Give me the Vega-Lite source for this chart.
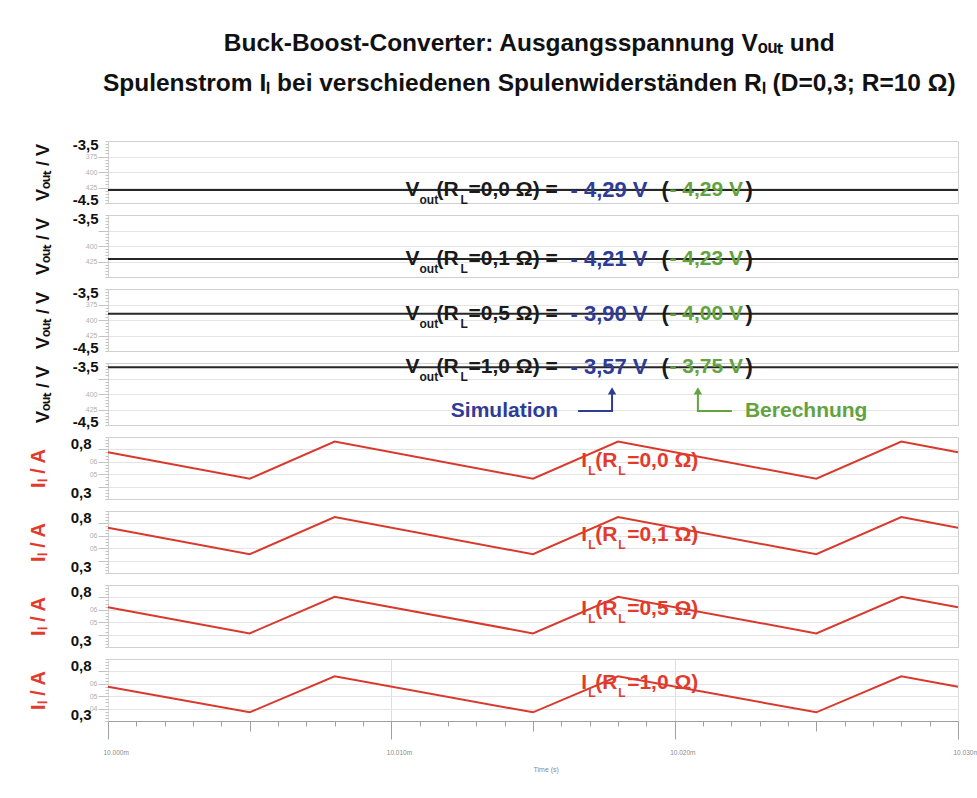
{
  "$schema": "https://vega.github.io/schema/vega-lite/v6.json",
  "padding": {"left": 27, "top": 31, "right": 5, "bottom": 5},
  "background": "white",
  "title": {
    "text": ["Buck-Boost-Converter: Ausgangsspannung Vₒᵤₜ und", "Spulenstrom Iₗ bei verschiedenen Spulenwiderständen Rₗ (D=0,3; R=10 Ω)"],
    "font": "Liberation Sans", "fontSize": 24.5, "fontWeight": "bold", "color": "#111111",
    "lineHeight": 40, "anchor": "middle", "offset": 40, "dx": 26
  },
  "config": {
    "view": {"stroke": "#d0d0d0"},
    "axis": {"labelFont": "Liberation Sans", "titleFont": "Liberation Sans"},
    "text": {"font": "Liberation Sans", "fontWeight": "bold", "align": "left", "baseline": "middle"}
  },
  "datasets": {
    "vout": [
      {"panel": 1, "t": 10.000, "v": -4.29}, {"panel": 1, "t": 10.030, "v": -4.29},
      {"panel": 2, "t": 10.000, "v": -4.21}, {"panel": 2, "t": 10.030, "v": -4.21},
      {"panel": 3, "t": 10.000, "v": -3.90}, {"panel": 3, "t": 10.030, "v": -3.90},
      {"panel": 4, "t": 10.000, "v": -3.57}, {"panel": 4, "t": 10.030, "v": -3.57}
    ],
    "il": [
      {"panel": 5, "t": 10.000, "v": 0.677}, {"panel": 5, "t": 10.005, "v": 0.463}, {"panel": 5, "t": 10.008, "v": 0.763}, {"panel": 5, "t": 10.015, "v": 0.463}, {"panel": 5, "t": 10.018, "v": 0.763}, {"panel": 5, "t": 10.025, "v": 0.463}, {"panel": 5, "t": 10.028, "v": 0.763}, {"panel": 5, "t": 10.030, "v": 0.677},
      {"panel": 6, "t": 10.000, "v": 0.665}, {"panel": 6, "t": 10.005, "v": 0.451}, {"panel": 6, "t": 10.008, "v": 0.751}, {"panel": 6, "t": 10.015, "v": 0.451}, {"panel": 6, "t": 10.018, "v": 0.751}, {"panel": 6, "t": 10.025, "v": 0.451}, {"panel": 6, "t": 10.028, "v": 0.751}, {"panel": 6, "t": 10.030, "v": 0.665},
      {"panel": 7, "t": 10.000, "v": 0.621}, {"panel": 7, "t": 10.005, "v": 0.410}, {"panel": 7, "t": 10.008, "v": 0.705}, {"panel": 7, "t": 10.015, "v": 0.410}, {"panel": 7, "t": 10.018, "v": 0.705}, {"panel": 7, "t": 10.025, "v": 0.410}, {"panel": 7, "t": 10.028, "v": 0.705}, {"panel": 7, "t": 10.030, "v": 0.621},
      {"panel": 8, "t": 10.000, "v": 0.577}, {"panel": 8, "t": 10.005, "v": 0.370}, {"panel": 8, "t": 10.008, "v": 0.660}, {"panel": 8, "t": 10.015, "v": 0.370}, {"panel": 8, "t": 10.018, "v": 0.660}, {"panel": 8, "t": 10.025, "v": 0.370}, {"panel": 8, "t": 10.028, "v": 0.660}, {"panel": 8, "t": 10.030, "v": 0.577}
    ],
    "vlab": [
      {"panel": 1, "t": 10.0105, "v": -4.29, "lab": "=0,0 Ω) =", "sim": "- 4,29 V", "calc": "- 4,29 V"},
      {"panel": 2, "t": 10.0105, "v": -4.21, "lab": "=0,1 Ω) =", "sim": "- 4,21 V", "calc": "- 4,23 V"},
      {"panel": 3, "t": 10.0105, "v": -3.90, "lab": "=0,5 Ω) =", "sim": "- 3,90 V", "calc": "- 4,00 V"},
      {"panel": 4, "t": 10.0105, "v": -3.57, "lab": "=1,0 Ω) =", "sim": "- 3,57 V", "calc": "- 3,75 V"}
    ],
    "ilab": [
      {"panel": 5, "t": 10.0167, "v": 0.61, "lab": "=0,0 Ω)"},
      {"panel": 6, "t": 10.0167, "v": 0.61, "lab": "=0,1 Ω)"},
      {"panel": 7, "t": 10.0167, "v": 0.61, "lab": "=0,5 Ω)"},
      {"panel": 8, "t": 10.0167, "v": 0.61, "lab": "=1,0 Ω)"}
    ],
    "arrows": [
      {"grp": "sim", "o": 1, "t": 10.01659, "v": -4.274}, {"grp": "sim", "o": 2, "t": 10.01779, "v": -4.274}, {"grp": "sim", "o": 3, "t": 10.01779, "v": -4.0},
      {"grp": "ber", "o": 1, "t": 10.02202, "v": -4.274}, {"grp": "ber", "o": 2, "t": 10.02082, "v": -4.274}, {"grp": "ber", "o": 3, "t": 10.02082, "v": -4.0}
    ],
    "heads": [
      {"grp": "sim", "t": 10.01779, "v": -3.95},
      {"grp": "ber", "t": 10.02082, "v": -3.95}
    ],
    "notes": [
      {"grp": "sim", "t": 10.0121, "v": -4.274, "txt": "Simulation"},
      {"grp": "ber", "t": 10.02248, "v": -4.274, "txt": "Berechnung"}
    ]
  },
  "spacing": 12,
  "bounds": "flush",
  "vconcat": [
    {
      "width": 850, "height": 62, "resolve": {"axis": {"y": "independent"}},
      "layer": [
        {"data": {"name": "vout"}, "transform": [{"filter": "datum.panel == 1"}], "mark": {"type": "line", "color": "#262626", "strokeWidth": 2},
         "encoding": {
           "x": {"field": "t", "type": "quantitative", "scale": {"domain": [10, 10.03], "nice": false, "zero": false}, "axis": {"values": [10.01, 10.02], "grid": true, "gridColor": "#dedede", "labels": false, "ticks": false, "domain": false, "title": null}},
           "y": {"field": "v", "type": "quantitative", "scale": {"domain": [-4.5, -3.5], "nice": false, "zero": false}, "axis": {"orient": "left", "values": [-3.5, -4.5], "labelExpr": "datum.value == -3.5 ? '-3,5' : '-4.5'", "labelFlush": true, "labelFlushOffset": 4, "labelFontSize": 15, "labelFontWeight": "bold", "labelColor": "#111111", "labelPadding": 10, "labelOverlap": false, "ticks": false, "domain": false, "grid": false, "title": "Vₒᵤₜ / V", "titleFontSize": 18, "titleFontWeight": "bold", "titleColor": "#111111", "titlePadding": 20}}
         }},
        {"data": {"name": "vlab"}, "transform": [{"filter": "datum.panel == 1"}], "mark": {"type": "text", "text": "V", "dx": 0, "fontSize": 21, "color": "#1a1a1a"},
         "encoding": {"x": {"field": "t", "type": "quantitative", "axis": null}, "y": {"field": "v", "type": "quantitative", "axis": {"orient": "left", "values": [-3.75, -4, -4.25], "labelExpr": "datum.value == -3.75 ? '375' : datum.value == -4 ? '400' : '425'", "labelFontSize": 7, "labelColor": "#b0b0b0", "labelPadding": 1, "labelOverlap": false, "ticks": true, "tickSize": 10, "tickColor": "#c4c4c4", "grid": true, "gridColor": "#e4e4e4", "domain": false, "title": null}}}},
        {"data": {"name": "vlab"}, "transform": [{"filter": "datum.panel == 1"}], "mark": {"type": "text", "text": "out", "dx": 14, "dy": 10, "fontSize": 12, "color": "#1a1a1a"},
         "encoding": {"x": {"field": "t", "type": "quantitative", "axis": null}, "y": {"field": "v", "type": "quantitative", "axis": {"orient": "left", "values": [-3.5, -3.55, -3.6, -3.65, -3.7, -3.75, -3.8, -3.85, -3.9, -3.95, -4, -4.05, -4.1, -4.15, -4.2, -4.25, -4.3, -4.35, -4.4, -4.45, -4.5], "labels": false, "ticks": true, "tickSize": 3, "tickColor": "#c4c4c4", "grid": false, "domain": false, "title": null}}}},
        {"data": {"name": "vlab"}, "transform": [{"filter": "datum.panel == 1"}], "mark": {"type": "text", "text": "(R", "dx": 31, "fontSize": 21, "color": "#1a1a1a"},
         "encoding": {"x": {"field": "t", "type": "quantitative", "axis": null}, "y": {"field": "v", "type": "quantitative", "axis": null}}},
        {"data": {"name": "vlab"}, "transform": [{"filter": "datum.panel == 1"}], "mark": {"type": "text", "text": "L", "dx": 55, "dy": 10, "fontSize": 12, "color": "#1a1a1a"},
         "encoding": {"x": {"field": "t", "type": "quantitative", "axis": null}, "y": {"field": "v", "type": "quantitative", "axis": null}}},
        {"data": {"name": "vlab"}, "transform": [{"filter": "datum.panel == 1"}], "mark": {"type": "text", "dx": 63, "fontSize": 21, "color": "#1a1a1a"},
         "encoding": {"text": {"field": "lab"}, "x": {"field": "t", "type": "quantitative", "axis": null}, "y": {"field": "v", "type": "quantitative", "axis": null}}},
        {"data": {"name": "vlab"}, "transform": [{"filter": "datum.panel == 1"}], "mark": {"type": "text", "dx": 165, "fontSize": 22, "color": "#2f3c96"},
         "encoding": {"text": {"field": "sim"}, "x": {"field": "t", "type": "quantitative", "axis": null}, "y": {"field": "v", "type": "quantitative", "axis": null}}},
        {"data": {"name": "vlab"}, "transform": [{"filter": "datum.panel == 1"}], "mark": {"type": "text", "text": "(", "dx": 256, "fontSize": 22, "color": "#1a1a1a"},
         "encoding": {"x": {"field": "t", "type": "quantitative", "axis": null}, "y": {"field": "v", "type": "quantitative", "axis": null}}},
        {"data": {"name": "vlab"}, "transform": [{"filter": "datum.panel == 1"}], "mark": {"type": "text", "dx": 264, "fontSize": 21, "color": "#63a33f"},
         "encoding": {"text": {"field": "calc"}, "x": {"field": "t", "type": "quantitative", "axis": null}, "y": {"field": "v", "type": "quantitative", "axis": null}}},
        {"data": {"name": "vlab"}, "transform": [{"filter": "datum.panel == 1"}], "mark": {"type": "text", "text": ")", "dx": 340, "fontSize": 22, "color": "#1a1a1a"},
         "encoding": {"x": {"field": "t", "type": "quantitative", "axis": null}, "y": {"field": "v", "type": "quantitative", "axis": null}}}
      ]
    },
    {
      "width": 850, "height": 62, "resolve": {"axis": {"y": "independent"}},
      "layer": [
        {"data": {"name": "vout"}, "transform": [{"filter": "datum.panel == 2"}], "mark": {"type": "line", "color": "#262626", "strokeWidth": 2},
         "encoding": {
           "x": {"field": "t", "type": "quantitative", "scale": {"domain": [10, 10.03], "nice": false, "zero": false}, "axis": {"values": [10.01, 10.02], "grid": true, "gridColor": "#dedede", "labels": false, "ticks": false, "domain": false, "title": null}},
           "y": {"field": "v", "type": "quantitative", "scale": {"domain": [-4.5, -3.5], "nice": false, "zero": false}, "axis": {"orient": "left", "values": [-4.5, -3.5], "labelExpr": "datum.value == -3.5 ? '-3,5' : ''", "labelFlush": true, "labelFlushOffset": 4, "labelFontSize": 15, "labelFontWeight": "bold", "labelColor": "#111111", "labelPadding": 10, "labelOverlap": false, "ticks": false, "domain": false, "grid": false, "title": "Vₒᵤₜ / V", "titleFontSize": 18, "titleFontWeight": "bold", "titleColor": "#111111", "titlePadding": 20}}
         }},
        {"data": {"name": "vlab"}, "transform": [{"filter": "datum.panel == 2"}], "mark": {"type": "text", "text": "V", "dx": 0, "fontSize": 21, "color": "#1a1a1a"},
         "encoding": {"x": {"field": "t", "type": "quantitative", "axis": null}, "y": {"field": "v", "type": "quantitative", "axis": {"orient": "left", "values": [-3.75, -4, -4.25], "labelExpr": "datum.value == -3.75 ? '' : datum.value == -4 ? '400' : '425'", "labelFontSize": 7, "labelColor": "#b0b0b0", "labelPadding": 1, "labelOverlap": false, "ticks": true, "tickSize": 10, "tickColor": "#c4c4c4", "grid": true, "gridColor": "#e4e4e4", "domain": false, "title": null}}}},
        {"data": {"name": "vlab"}, "transform": [{"filter": "datum.panel == 2"}], "mark": {"type": "text", "text": "out", "dx": 14, "dy": 10, "fontSize": 12, "color": "#1a1a1a"},
         "encoding": {"x": {"field": "t", "type": "quantitative", "axis": null}, "y": {"field": "v", "type": "quantitative", "axis": {"orient": "left", "values": [-3.5, -3.55, -3.6, -3.65, -3.7, -3.75, -3.8, -3.85, -3.9, -3.95, -4, -4.05, -4.1, -4.15, -4.2, -4.25, -4.3, -4.35, -4.4, -4.45, -4.5], "labels": false, "ticks": true, "tickSize": 3, "tickColor": "#c4c4c4", "grid": false, "domain": false, "title": null}}}},
        {"data": {"name": "vlab"}, "transform": [{"filter": "datum.panel == 2"}], "mark": {"type": "text", "text": "(R", "dx": 31, "fontSize": 21, "color": "#1a1a1a"},
         "encoding": {"x": {"field": "t", "type": "quantitative", "axis": null}, "y": {"field": "v", "type": "quantitative", "axis": null}}},
        {"data": {"name": "vlab"}, "transform": [{"filter": "datum.panel == 2"}], "mark": {"type": "text", "text": "L", "dx": 55, "dy": 10, "fontSize": 12, "color": "#1a1a1a"},
         "encoding": {"x": {"field": "t", "type": "quantitative", "axis": null}, "y": {"field": "v", "type": "quantitative", "axis": null}}},
        {"data": {"name": "vlab"}, "transform": [{"filter": "datum.panel == 2"}], "mark": {"type": "text", "dx": 63, "fontSize": 21, "color": "#1a1a1a"},
         "encoding": {"text": {"field": "lab"}, "x": {"field": "t", "type": "quantitative", "axis": null}, "y": {"field": "v", "type": "quantitative", "axis": null}}},
        {"data": {"name": "vlab"}, "transform": [{"filter": "datum.panel == 2"}], "mark": {"type": "text", "dx": 165, "fontSize": 22, "color": "#2f3c96"},
         "encoding": {"text": {"field": "sim"}, "x": {"field": "t", "type": "quantitative", "axis": null}, "y": {"field": "v", "type": "quantitative", "axis": null}}},
        {"data": {"name": "vlab"}, "transform": [{"filter": "datum.panel == 2"}], "mark": {"type": "text", "text": "(", "dx": 256, "fontSize": 22, "color": "#1a1a1a"},
         "encoding": {"x": {"field": "t", "type": "quantitative", "axis": null}, "y": {"field": "v", "type": "quantitative", "axis": null}}},
        {"data": {"name": "vlab"}, "transform": [{"filter": "datum.panel == 2"}], "mark": {"type": "text", "dx": 264, "fontSize": 21, "color": "#63a33f"},
         "encoding": {"text": {"field": "calc"}, "x": {"field": "t", "type": "quantitative", "axis": null}, "y": {"field": "v", "type": "quantitative", "axis": null}}},
        {"data": {"name": "vlab"}, "transform": [{"filter": "datum.panel == 2"}], "mark": {"type": "text", "text": ")", "dx": 340, "fontSize": 22, "color": "#1a1a1a"},
         "encoding": {"x": {"field": "t", "type": "quantitative", "axis": null}, "y": {"field": "v", "type": "quantitative", "axis": null}}}
      ]
    },
    {
      "width": 850, "height": 62, "resolve": {"axis": {"y": "independent"}},
      "layer": [
        {"data": {"name": "vout"}, "transform": [{"filter": "datum.panel == 3"}], "mark": {"type": "line", "color": "#262626", "strokeWidth": 2},
         "encoding": {
           "x": {"field": "t", "type": "quantitative", "scale": {"domain": [10, 10.03], "nice": false, "zero": false}, "axis": {"values": [10.01, 10.02], "grid": true, "gridColor": "#dedede", "labels": false, "ticks": false, "domain": false, "title": null}},
           "y": {"field": "v", "type": "quantitative", "scale": {"domain": [-4.5, -3.5], "nice": false, "zero": false}, "axis": {"orient": "left", "values": [-3.5, -4.5], "labelExpr": "datum.value == -3.5 ? '-3,5' : '-4,5'", "labelFlush": true, "labelFlushOffset": 4, "labelFontSize": 15, "labelFontWeight": "bold", "labelColor": "#111111", "labelPadding": 10, "labelOverlap": false, "ticks": false, "domain": false, "grid": false, "title": "Vₒᵤₜ / V", "titleFontSize": 18, "titleFontWeight": "bold", "titleColor": "#111111", "titlePadding": 20}}
         }},
        {"data": {"name": "vlab"}, "transform": [{"filter": "datum.panel == 3"}], "mark": {"type": "text", "text": "V", "dx": 0, "fontSize": 21, "color": "#1a1a1a"},
         "encoding": {"x": {"field": "t", "type": "quantitative", "axis": null}, "y": {"field": "v", "type": "quantitative", "axis": {"orient": "left", "values": [-3.75, -4, -4.25], "labelExpr": "datum.value == -3.75 ? '375' : datum.value == -4 ? '400' : '425'", "labelFontSize": 7, "labelColor": "#b0b0b0", "labelPadding": 1, "labelOverlap": false, "ticks": true, "tickSize": 10, "tickColor": "#c4c4c4", "grid": true, "gridColor": "#e4e4e4", "domain": false, "title": null}}}},
        {"data": {"name": "vlab"}, "transform": [{"filter": "datum.panel == 3"}], "mark": {"type": "text", "text": "out", "dx": 14, "dy": 10, "fontSize": 12, "color": "#1a1a1a"},
         "encoding": {"x": {"field": "t", "type": "quantitative", "axis": null}, "y": {"field": "v", "type": "quantitative", "axis": {"orient": "left", "values": [-3.5, -3.55, -3.6, -3.65, -3.7, -3.75, -3.8, -3.85, -3.9, -3.95, -4, -4.05, -4.1, -4.15, -4.2, -4.25, -4.3, -4.35, -4.4, -4.45, -4.5], "labels": false, "ticks": true, "tickSize": 3, "tickColor": "#c4c4c4", "grid": false, "domain": false, "title": null}}}},
        {"data": {"name": "vlab"}, "transform": [{"filter": "datum.panel == 3"}], "mark": {"type": "text", "text": "(R", "dx": 31, "fontSize": 21, "color": "#1a1a1a"},
         "encoding": {"x": {"field": "t", "type": "quantitative", "axis": null}, "y": {"field": "v", "type": "quantitative", "axis": null}}},
        {"data": {"name": "vlab"}, "transform": [{"filter": "datum.panel == 3"}], "mark": {"type": "text", "text": "L", "dx": 55, "dy": 10, "fontSize": 12, "color": "#1a1a1a"},
         "encoding": {"x": {"field": "t", "type": "quantitative", "axis": null}, "y": {"field": "v", "type": "quantitative", "axis": null}}},
        {"data": {"name": "vlab"}, "transform": [{"filter": "datum.panel == 3"}], "mark": {"type": "text", "dx": 63, "fontSize": 21, "color": "#1a1a1a"},
         "encoding": {"text": {"field": "lab"}, "x": {"field": "t", "type": "quantitative", "axis": null}, "y": {"field": "v", "type": "quantitative", "axis": null}}},
        {"data": {"name": "vlab"}, "transform": [{"filter": "datum.panel == 3"}], "mark": {"type": "text", "dx": 165, "fontSize": 22, "color": "#2f3c96"},
         "encoding": {"text": {"field": "sim"}, "x": {"field": "t", "type": "quantitative", "axis": null}, "y": {"field": "v", "type": "quantitative", "axis": null}}},
        {"data": {"name": "vlab"}, "transform": [{"filter": "datum.panel == 3"}], "mark": {"type": "text", "text": "(", "dx": 256, "fontSize": 22, "color": "#1a1a1a"},
         "encoding": {"x": {"field": "t", "type": "quantitative", "axis": null}, "y": {"field": "v", "type": "quantitative", "axis": null}}},
        {"data": {"name": "vlab"}, "transform": [{"filter": "datum.panel == 3"}], "mark": {"type": "text", "dx": 264, "fontSize": 21, "color": "#63a33f"},
         "encoding": {"text": {"field": "calc"}, "x": {"field": "t", "type": "quantitative", "axis": null}, "y": {"field": "v", "type": "quantitative", "axis": null}}},
        {"data": {"name": "vlab"}, "transform": [{"filter": "datum.panel == 3"}], "mark": {"type": "text", "text": ")", "dx": 340, "fontSize": 22, "color": "#1a1a1a"},
         "encoding": {"x": {"field": "t", "type": "quantitative", "axis": null}, "y": {"field": "v", "type": "quantitative", "axis": null}}}
      ]
    },
    {
      "width": 850, "height": 62, "resolve": {"axis": {"y": "independent"}},
      "layer": [
        {"data": {"name": "vout"}, "transform": [{"filter": "datum.panel == 4"}], "mark": {"type": "line", "color": "#262626", "strokeWidth": 2},
         "encoding": {
           "x": {"field": "t", "type": "quantitative", "scale": {"domain": [10, 10.03], "nice": false, "zero": false}, "axis": {"values": [10.01, 10.02], "grid": true, "gridColor": "#dedede", "labels": false, "ticks": false, "domain": false, "title": null}},
           "y": {"field": "v", "type": "quantitative", "scale": {"domain": [-4.5, -3.5], "nice": false, "zero": false}, "axis": {"orient": "left", "values": [-3.5, -4.5], "labelExpr": "datum.value == -3.5 ? '-3,5' : '-4,5'", "labelFlush": true, "labelFlushOffset": 4, "labelFontSize": 15, "labelFontWeight": "bold", "labelColor": "#111111", "labelPadding": 10, "labelOverlap": false, "ticks": false, "domain": false, "grid": false, "title": "Vₒᵤₜ / V", "titleFontSize": 18, "titleFontWeight": "bold", "titleColor": "#111111", "titlePadding": 20}}
         }},
        {"data": {"name": "vlab"}, "transform": [{"filter": "datum.panel == 4"}], "mark": {"type": "text", "text": "V", "dx": 0, "fontSize": 21, "color": "#1a1a1a"},
         "encoding": {"x": {"field": "t", "type": "quantitative", "axis": null}, "y": {"field": "v", "type": "quantitative", "axis": {"orient": "left", "values": [-3.75, -4, -4.25], "labelExpr": "datum.value == -3.75 ? '' : datum.value == -4 ? '400' : '425'", "labelFontSize": 7, "labelColor": "#b0b0b0", "labelPadding": 1, "labelOverlap": false, "ticks": true, "tickSize": 10, "tickColor": "#c4c4c4", "grid": true, "gridColor": "#e4e4e4", "domain": false, "title": null}}}},
        {"data": {"name": "vlab"}, "transform": [{"filter": "datum.panel == 4"}], "mark": {"type": "text", "text": "out", "dx": 14, "dy": 10, "fontSize": 12, "color": "#1a1a1a"},
         "encoding": {"x": {"field": "t", "type": "quantitative", "axis": null}, "y": {"field": "v", "type": "quantitative", "axis": {"orient": "left", "values": [-3.5, -3.55, -3.6, -3.65, -3.7, -3.75, -3.8, -3.85, -3.9, -3.95, -4, -4.05, -4.1, -4.15, -4.2, -4.25, -4.3, -4.35, -4.4, -4.45, -4.5], "labels": false, "ticks": true, "tickSize": 3, "tickColor": "#c4c4c4", "grid": false, "domain": false, "title": null}}}},
        {"data": {"name": "vlab"}, "transform": [{"filter": "datum.panel == 4"}], "mark": {"type": "text", "text": "(R", "dx": 31, "fontSize": 21, "color": "#1a1a1a"},
         "encoding": {"x": {"field": "t", "type": "quantitative", "axis": null}, "y": {"field": "v", "type": "quantitative", "axis": null}}},
        {"data": {"name": "vlab"}, "transform": [{"filter": "datum.panel == 4"}], "mark": {"type": "text", "text": "L", "dx": 55, "dy": 10, "fontSize": 12, "color": "#1a1a1a"},
         "encoding": {"x": {"field": "t", "type": "quantitative", "axis": null}, "y": {"field": "v", "type": "quantitative", "axis": null}}},
        {"data": {"name": "vlab"}, "transform": [{"filter": "datum.panel == 4"}], "mark": {"type": "text", "dx": 63, "fontSize": 21, "color": "#1a1a1a"},
         "encoding": {"text": {"field": "lab"}, "x": {"field": "t", "type": "quantitative", "axis": null}, "y": {"field": "v", "type": "quantitative", "axis": null}}},
        {"data": {"name": "vlab"}, "transform": [{"filter": "datum.panel == 4"}], "mark": {"type": "text", "dx": 165, "fontSize": 22, "color": "#2f3c96"},
         "encoding": {"text": {"field": "sim"}, "x": {"field": "t", "type": "quantitative", "axis": null}, "y": {"field": "v", "type": "quantitative", "axis": null}}},
        {"data": {"name": "vlab"}, "transform": [{"filter": "datum.panel == 4"}], "mark": {"type": "text", "text": "(", "dx": 256, "fontSize": 22, "color": "#1a1a1a"},
         "encoding": {"x": {"field": "t", "type": "quantitative", "axis": null}, "y": {"field": "v", "type": "quantitative", "axis": null}}},
        {"data": {"name": "vlab"}, "transform": [{"filter": "datum.panel == 4"}], "mark": {"type": "text", "dx": 264, "fontSize": 21, "color": "#63a33f"},
         "encoding": {"text": {"field": "calc"}, "x": {"field": "t", "type": "quantitative", "axis": null}, "y": {"field": "v", "type": "quantitative", "axis": null}}},
        {"data": {"name": "vlab"}, "transform": [{"filter": "datum.panel == 4"}], "mark": {"type": "text", "text": ")", "dx": 340, "fontSize": 22, "color": "#1a1a1a"},
         "encoding": {"x": {"field": "t", "type": "quantitative", "axis": null}, "y": {"field": "v", "type": "quantitative", "axis": null}}},
        {"data": {"name": "arrows"}, "mark": {"type": "line", "strokeWidth": 2},
         "encoding": {"x": {"field": "t", "type": "quantitative", "axis": null}, "y": {"field": "v", "type": "quantitative", "axis": null}, "order": {"field": "o", "type": "quantitative"}, "color": {"field": "grp", "type": "nominal", "scale": {"domain": ["sim", "ber"], "range": ["#2f3c96", "#63a33f"]}, "legend": null}}},
        {"data": {"name": "heads"}, "mark": {"type": "point", "shape": "triangle-up", "filled": true, "size": 70, "opacity": 1},
         "encoding": {"x": {"field": "t", "type": "quantitative", "axis": null}, "y": {"field": "v", "type": "quantitative", "axis": null}, "color": {"field": "grp", "type": "nominal", "scale": {"domain": ["sim", "ber"], "range": ["#2f3c96", "#63a33f"]}, "legend": null}}},
        {"data": {"name": "notes"}, "mark": {"type": "text", "fontSize": 21, "align": "left", "baseline": "middle"},
         "encoding": {"x": {"field": "t", "type": "quantitative", "axis": null}, "y": {"field": "v", "type": "quantitative", "axis": null}, "text": {"field": "txt"}, "color": {"field": "grp", "type": "nominal", "scale": {"domain": ["sim", "ber"], "range": ["#2f3c96", "#63a33f"]}, "legend": null}}}
      ]
    },
    {
      "width": 850, "height": 62, "resolve": {"axis": {"y": "independent"}},
      "layer": [
        {"data": {"name": "il"}, "transform": [{"filter": "datum.panel == 5"}], "mark": {"type": "line", "color": "#d8392c", "strokeWidth": 2},
         "encoding": {
           "x": {"field": "t", "type": "quantitative", "scale": {"domain": [10, 10.03], "nice": false, "zero": false}, "axis": {"values": [10.01, 10.02], "grid": true, "gridColor": "#dedede", "labels": false, "ticks": false, "domain": false, "title": null}},
           "y": {"field": "v", "type": "quantitative", "scale": {"domain": [0.3, 0.8], "nice": false, "zero": false}, "axis": {"orient": "left", "values": [0.3, 0.8], "labelExpr": "datum.value > 0.5 ? '0,8' : '0,3'", "labelFlush": true, "labelFlushOffset": 1, "labelFontSize": 15, "labelFontWeight": "bold", "labelColor": "#111111", "labelPadding": 17, "labelOverlap": false, "ticks": false, "domain": false, "grid": false, "title": "Iₗ / A", "titleFontSize": 20, "titleFontWeight": "bold", "titleColor": "#e23b2e", "titlePadding": 22}}
         }},
        {"data": {"name": "ilab"}, "transform": [{"filter": "datum.panel == 5"}], "mark": {"type": "text", "text": "I", "dx": 0, "fontSize": 21, "color": "#e23b2e"},
         "encoding": {"x": {"field": "t", "type": "quantitative", "axis": null}, "y": {"field": "v", "type": "quantitative", "axis": {"orient": "left", "values": [0.4, 0.5, 0.6, 0.7], "labelExpr": "datum.value == 0.6 ? '06' : datum.value == 0.5 ? '05' : ''", "labelFontSize": 7, "labelColor": "#b0b0b0", "labelPadding": 1, "labelOverlap": false, "ticks": true, "tickSize": 10, "tickColor": "#c4c4c4", "grid": true, "gridColor": "#e4e4e4", "domain": false, "title": null}}}},
        {"data": {"name": "ilab"}, "transform": [{"filter": "datum.panel == 5"}], "mark": {"type": "text", "text": "L", "dx": 7, "dy": 10, "fontSize": 12, "color": "#e23b2e"},
         "encoding": {"x": {"field": "t", "type": "quantitative", "axis": null}, "y": {"field": "v", "type": "quantitative", "axis": {"orient": "left", "values": [0.3, 0.325, 0.35, 0.375, 0.4, 0.425, 0.45, 0.475, 0.5, 0.525, 0.55, 0.575, 0.6, 0.625, 0.65, 0.675, 0.7, 0.725, 0.75, 0.775, 0.8], "labels": false, "ticks": true, "tickSize": 3, "tickColor": "#c4c4c4", "grid": false, "domain": false, "title": null}}}},
        {"data": {"name": "ilab"}, "transform": [{"filter": "datum.panel == 5"}], "mark": {"type": "text", "text": "(R", "dx": 14, "fontSize": 21, "color": "#e23b2e"},
         "encoding": {"x": {"field": "t", "type": "quantitative", "axis": null}, "y": {"field": "v", "type": "quantitative", "axis": null}}},
        {"data": {"name": "ilab"}, "transform": [{"filter": "datum.panel == 5"}], "mark": {"type": "text", "text": "L", "dx": 37, "dy": 10, "fontSize": 12, "color": "#e23b2e"},
         "encoding": {"x": {"field": "t", "type": "quantitative", "axis": null}, "y": {"field": "v", "type": "quantitative", "axis": null}}},
        {"data": {"name": "ilab"}, "transform": [{"filter": "datum.panel == 5"}], "mark": {"type": "text", "dx": 46, "fontSize": 21, "color": "#e23b2e"},
         "encoding": {"text": {"field": "lab"}, "x": {"field": "t", "type": "quantitative", "axis": null}, "y": {"field": "v", "type": "quantitative", "axis": null}}}
      ]
    },
    {
      "width": 850, "height": 62, "resolve": {"axis": {"y": "independent"}},
      "layer": [
        {"data": {"name": "il"}, "transform": [{"filter": "datum.panel == 6"}], "mark": {"type": "line", "color": "#d8392c", "strokeWidth": 2},
         "encoding": {
           "x": {"field": "t", "type": "quantitative", "scale": {"domain": [10, 10.03], "nice": false, "zero": false}, "axis": {"values": [10.01, 10.02], "grid": true, "gridColor": "#dedede", "labels": false, "ticks": false, "domain": false, "title": null}},
           "y": {"field": "v", "type": "quantitative", "scale": {"domain": [0.3, 0.8], "nice": false, "zero": false}, "axis": {"orient": "left", "values": [0.3, 0.8], "labelExpr": "datum.value > 0.5 ? '0,8' : '0,3'", "labelFlush": true, "labelFlushOffset": 1, "labelFontSize": 15, "labelFontWeight": "bold", "labelColor": "#111111", "labelPadding": 17, "labelOverlap": false, "ticks": false, "domain": false, "grid": false, "title": "Iₗ / A", "titleFontSize": 20, "titleFontWeight": "bold", "titleColor": "#e23b2e", "titlePadding": 22}}
         }},
        {"data": {"name": "ilab"}, "transform": [{"filter": "datum.panel == 6"}], "mark": {"type": "text", "text": "I", "dx": 0, "fontSize": 21, "color": "#e23b2e"},
         "encoding": {"x": {"field": "t", "type": "quantitative", "axis": null}, "y": {"field": "v", "type": "quantitative", "axis": {"orient": "left", "values": [0.4, 0.5, 0.6, 0.7], "labelExpr": "datum.value == 0.6 ? '06' : datum.value == 0.5 ? '05' : ''", "labelFontSize": 7, "labelColor": "#b0b0b0", "labelPadding": 1, "labelOverlap": false, "ticks": true, "tickSize": 10, "tickColor": "#c4c4c4", "grid": true, "gridColor": "#e4e4e4", "domain": false, "title": null}}}},
        {"data": {"name": "ilab"}, "transform": [{"filter": "datum.panel == 6"}], "mark": {"type": "text", "text": "L", "dx": 7, "dy": 10, "fontSize": 12, "color": "#e23b2e"},
         "encoding": {"x": {"field": "t", "type": "quantitative", "axis": null}, "y": {"field": "v", "type": "quantitative", "axis": {"orient": "left", "values": [0.3, 0.325, 0.35, 0.375, 0.4, 0.425, 0.45, 0.475, 0.5, 0.525, 0.55, 0.575, 0.6, 0.625, 0.65, 0.675, 0.7, 0.725, 0.75, 0.775, 0.8], "labels": false, "ticks": true, "tickSize": 3, "tickColor": "#c4c4c4", "grid": false, "domain": false, "title": null}}}},
        {"data": {"name": "ilab"}, "transform": [{"filter": "datum.panel == 6"}], "mark": {"type": "text", "text": "(R", "dx": 14, "fontSize": 21, "color": "#e23b2e"},
         "encoding": {"x": {"field": "t", "type": "quantitative", "axis": null}, "y": {"field": "v", "type": "quantitative", "axis": null}}},
        {"data": {"name": "ilab"}, "transform": [{"filter": "datum.panel == 6"}], "mark": {"type": "text", "text": "L", "dx": 37, "dy": 10, "fontSize": 12, "color": "#e23b2e"},
         "encoding": {"x": {"field": "t", "type": "quantitative", "axis": null}, "y": {"field": "v", "type": "quantitative", "axis": null}}},
        {"data": {"name": "ilab"}, "transform": [{"filter": "datum.panel == 6"}], "mark": {"type": "text", "dx": 46, "fontSize": 21, "color": "#e23b2e"},
         "encoding": {"text": {"field": "lab"}, "x": {"field": "t", "type": "quantitative", "axis": null}, "y": {"field": "v", "type": "quantitative", "axis": null}}}
      ]
    },
    {
      "width": 850, "height": 62, "resolve": {"axis": {"y": "independent"}},
      "layer": [
        {"data": {"name": "il"}, "transform": [{"filter": "datum.panel == 7"}], "mark": {"type": "line", "color": "#d8392c", "strokeWidth": 2},
         "encoding": {
           "x": {"field": "t", "type": "quantitative", "scale": {"domain": [10, 10.03], "nice": false, "zero": false}, "axis": {"values": [10.01, 10.02], "grid": true, "gridColor": "#dedede", "labels": false, "ticks": false, "domain": false, "title": null}},
           "y": {"field": "v", "type": "quantitative", "scale": {"domain": [0.3, 0.8], "nice": false, "zero": false}, "axis": {"orient": "left", "values": [0.3, 0.8], "labelExpr": "datum.value > 0.5 ? '0,8' : '0,3'", "labelFlush": true, "labelFlushOffset": 1, "labelFontSize": 15, "labelFontWeight": "bold", "labelColor": "#111111", "labelPadding": 17, "labelOverlap": false, "ticks": false, "domain": false, "grid": false, "title": "Iₗ / A", "titleFontSize": 20, "titleFontWeight": "bold", "titleColor": "#e23b2e", "titlePadding": 22}}
         }},
        {"data": {"name": "ilab"}, "transform": [{"filter": "datum.panel == 7"}], "mark": {"type": "text", "text": "I", "dx": 0, "fontSize": 21, "color": "#e23b2e"},
         "encoding": {"x": {"field": "t", "type": "quantitative", "axis": null}, "y": {"field": "v", "type": "quantitative", "axis": {"orient": "left", "values": [0.4, 0.5, 0.6, 0.7], "labelExpr": "datum.value == 0.6 ? '06' : datum.value == 0.5 ? '05' : ''", "labelFontSize": 7, "labelColor": "#b0b0b0", "labelPadding": 1, "labelOverlap": false, "ticks": true, "tickSize": 10, "tickColor": "#c4c4c4", "grid": true, "gridColor": "#e4e4e4", "domain": false, "title": null}}}},
        {"data": {"name": "ilab"}, "transform": [{"filter": "datum.panel == 7"}], "mark": {"type": "text", "text": "L", "dx": 7, "dy": 10, "fontSize": 12, "color": "#e23b2e"},
         "encoding": {"x": {"field": "t", "type": "quantitative", "axis": null}, "y": {"field": "v", "type": "quantitative", "axis": {"orient": "left", "values": [0.3, 0.325, 0.35, 0.375, 0.4, 0.425, 0.45, 0.475, 0.5, 0.525, 0.55, 0.575, 0.6, 0.625, 0.65, 0.675, 0.7, 0.725, 0.75, 0.775, 0.8], "labels": false, "ticks": true, "tickSize": 3, "tickColor": "#c4c4c4", "grid": false, "domain": false, "title": null}}}},
        {"data": {"name": "ilab"}, "transform": [{"filter": "datum.panel == 7"}], "mark": {"type": "text", "text": "(R", "dx": 14, "fontSize": 21, "color": "#e23b2e"},
         "encoding": {"x": {"field": "t", "type": "quantitative", "axis": null}, "y": {"field": "v", "type": "quantitative", "axis": null}}},
        {"data": {"name": "ilab"}, "transform": [{"filter": "datum.panel == 7"}], "mark": {"type": "text", "text": "L", "dx": 37, "dy": 10, "fontSize": 12, "color": "#e23b2e"},
         "encoding": {"x": {"field": "t", "type": "quantitative", "axis": null}, "y": {"field": "v", "type": "quantitative", "axis": null}}},
        {"data": {"name": "ilab"}, "transform": [{"filter": "datum.panel == 7"}], "mark": {"type": "text", "dx": 46, "fontSize": 21, "color": "#e23b2e"},
         "encoding": {"text": {"field": "lab"}, "x": {"field": "t", "type": "quantitative", "axis": null}, "y": {"field": "v", "type": "quantitative", "axis": null}}}
      ]
    },
    {
      "width": 850, "height": 62, "resolve": {"axis": {"x": "independent", "y": "independent"}},
      "layer": [
        {"data": {"name": "il"}, "transform": [{"filter": "datum.panel == 8"}], "mark": {"type": "line", "color": "#d8392c", "strokeWidth": 2},
         "encoding": {
           "x": {"field": "t", "type": "quantitative", "scale": {"domain": [10, 10.03], "nice": false, "zero": false}, "axis": {"orient": "bottom", "values": [10, 10.01, 10.02, 10.03], "grid": true, "gridColor": "#dedede", "labels": true, "labelExpr": "format(datum.value, '.3f') + 'm'", "labelFontSize": 6.5, "labelColor": "#8a8a8a", "labelAlign": "left", "labelOffset": -5, "labelPadding": 10, "labelFlush": false, "labelOverlap": false, "ticks": true, "tickSize": 18, "tickColor": "#a0a0a0", "domain": true, "domainColor": "#a0a0a0", "title": "Time (s)", "titleFontSize": 7, "titleFontWeight": "normal", "titleColor": "#8a8a8a", "titleAlign": "left", "titlePadding": 10}},
           "y": {"field": "v", "type": "quantitative", "scale": {"domain": [0.3, 0.8], "nice": false, "zero": false}, "axis": {"orient": "left", "values": [0.3, 0.8], "labelExpr": "datum.value > 0.5 ? '0,8' : '0,3'", "labelFlush": true, "labelFlushOffset": 1, "labelFontSize": 15, "labelFontWeight": "bold", "labelColor": "#111111", "labelPadding": 17, "labelOverlap": false, "ticks": false, "domain": false, "grid": false, "title": "Iₗ / A", "titleFontSize": 20, "titleFontWeight": "bold", "titleColor": "#e23b2e", "titlePadding": 22}}
         }},
        {"data": {"name": "ilab"}, "transform": [{"filter": "datum.panel == 8"}], "mark": {"type": "text", "text": "I", "dx": 0, "fontSize": 21, "color": "#e23b2e"},
         "encoding": {"x": {"field": "t", "type": "quantitative", "axis": {"orient": "bottom", "values": [10.005, 10.015, 10.025], "labels": false, "ticks": true, "tickSize": 10, "tickColor": "#a0a0a0", "domain": false, "grid": false, "title": null}}, "y": {"field": "v", "type": "quantitative", "axis": {"orient": "left", "values": [0.4, 0.5, 0.6, 0.7], "labelExpr": "datum.value == 0.6 ? '06' : datum.value == 0.5 ? '05' : datum.value == 0.4 ? '04' : ''", "labelFontSize": 7, "labelColor": "#b0b0b0", "labelPadding": 1, "labelOverlap": false, "ticks": true, "tickSize": 10, "tickColor": "#c4c4c4", "grid": true, "gridColor": "#e4e4e4", "domain": false, "title": null}}}},
        {"data": {"name": "ilab"}, "transform": [{"filter": "datum.panel == 8"}], "mark": {"type": "text", "text": "L", "dx": 7, "dy": 10, "fontSize": 12, "color": "#e23b2e"},
         "encoding": {"x": {"field": "t", "type": "quantitative", "axis": {"orient": "bottom", "values": [10.001, 10.002, 10.003, 10.004, 10.006, 10.007, 10.008, 10.009, 10.011, 10.012, 10.013, 10.014, 10.016, 10.017, 10.018, 10.019, 10.021, 10.022, 10.023, 10.024, 10.026, 10.027, 10.028, 10.029], "labels": false, "ticks": true, "tickSize": 5, "tickColor": "#a0a0a0", "domain": false, "grid": false, "title": null}}, "y": {"field": "v", "type": "quantitative", "axis": {"orient": "left", "values": [0.3, 0.325, 0.35, 0.375, 0.4, 0.425, 0.45, 0.475, 0.5, 0.525, 0.55, 0.575, 0.6, 0.625, 0.65, 0.675, 0.7, 0.725, 0.75, 0.775, 0.8], "labels": false, "ticks": true, "tickSize": 3, "tickColor": "#c4c4c4", "grid": false, "domain": false, "title": null}}}},
        {"data": {"name": "ilab"}, "transform": [{"filter": "datum.panel == 8"}], "mark": {"type": "text", "text": "(R", "dx": 14, "fontSize": 21, "color": "#e23b2e"},
         "encoding": {"x": {"field": "t", "type": "quantitative", "axis": null}, "y": {"field": "v", "type": "quantitative", "axis": null}}},
        {"data": {"name": "ilab"}, "transform": [{"filter": "datum.panel == 8"}], "mark": {"type": "text", "text": "L", "dx": 37, "dy": 10, "fontSize": 12, "color": "#e23b2e"},
         "encoding": {"x": {"field": "t", "type": "quantitative", "axis": null}, "y": {"field": "v", "type": "quantitative", "axis": null}}},
        {"data": {"name": "ilab"}, "transform": [{"filter": "datum.panel == 8"}], "mark": {"type": "text", "dx": 46, "fontSize": 21, "color": "#e23b2e"},
         "encoding": {"text": {"field": "lab"}, "x": {"field": "t", "type": "quantitative", "axis": null}, "y": {"field": "v", "type": "quantitative", "axis": null}}}
      ]
    }
  ]
}
